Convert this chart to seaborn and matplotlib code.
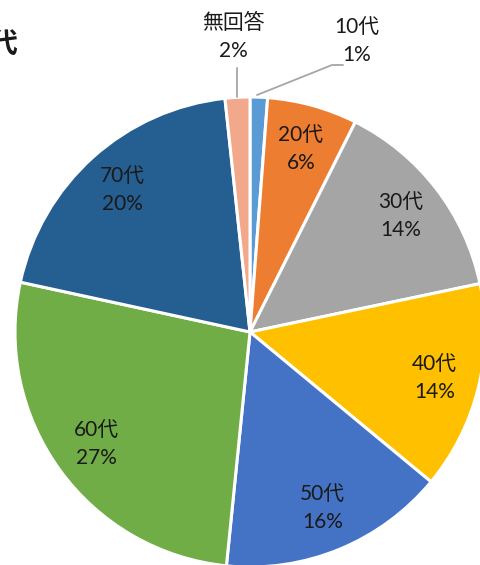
import matplotlib
matplotlib.use("Agg")
import matplotlib.pyplot as plt
import seaborn as sns
import numpy as np

categories = ["10代", "20代", "30代", "40代", "50代", "60代", "70代", "無回答"]
values = [1.2, 6.2, 14.3, 14.3, 15.6, 26.8, 19.9, 1.7]
pct_labels = ["1%", "6%", "14%", "14%", "16%", "27%", "20%", "2%"]
colors = ["#5B9BD5", "#ED7D31", "#A5A5A5", "#FFC000", "#4472C4", "#70AD47", "#255E91", "#F1A88B"]

sns.set_theme(style="white")
plt.rcParams["font.family"] = ["Lato", "Noto Sans CJK JP", "DejaVu Sans"]

W, H = 481, 565
CX, CY, R = 250, 332, 235
fig = plt.figure(figsize=(W / 100, H / 100), dpi=100)
ax = fig.add_axes([0, 0, 1, 1])

def px(x, y):
    return (x - CX) / R, (CY - y) / R

wedges, _ = ax.pie(values, colors=colors, startangle=90, counterclock=False,
                   radius=1.0, wedgeprops=dict(edgecolor="white", linewidth=2.2))

ax.set_aspect("auto")
ax.set_xlim(-CX / R, (W - CX) / R)
ax.set_ylim((CY - H) / R, CY / R)
ax.axis("off")

fs = 15
ls = 1.5
for w, cat, pl in zip(wedges, categories, pct_labels):
    if cat in ("10代", "無回答"):
        continue
    ang = np.deg2rad((w.theta1 + w.theta2) / 2)
    r = 0.81
    x, y = r * np.cos(ang), r * np.sin(ang)
    ax.text(x, y, f"{cat}\n{pl}", ha="center", va="center", fontsize=fs,
            color="#1a1a1a", linespacing=ls)

# outside labels
x, y = px(233, 37)
ax.text(x, y, "無回答\n2%", ha="center", va="center", fontsize=fs, color="#1a1a1a", linespacing=ls)
x, y = px(357, 41)
ax.text(x, y, "10代\n1%", ha="center", va="center", fontsize=fs, color="#1a1a1a", linespacing=ls)

lc = "#A6A6A6"
p1, p2 = px(237, 68), px(237, 97)
ax.plot([p1[0], p2[0]], [p1[1], p2[1]], color=lc, lw=1.3)
q1, q2, q3 = px(257, 95), px(332, 65), px(343, 65)
ax.plot([q1[0], q2[0], q3[0]], [q1[1], q2[1], q3[1]], color=lc, lw=1.3)

fig.text(18 / W, 1 - 45 / H, "代", ha="right", va="center", fontsize=20,
         fontweight="bold", color="#1a1a1a", family=["Noto Sans CJK JP"])

fig.savefig("out.png", dpi=100)
